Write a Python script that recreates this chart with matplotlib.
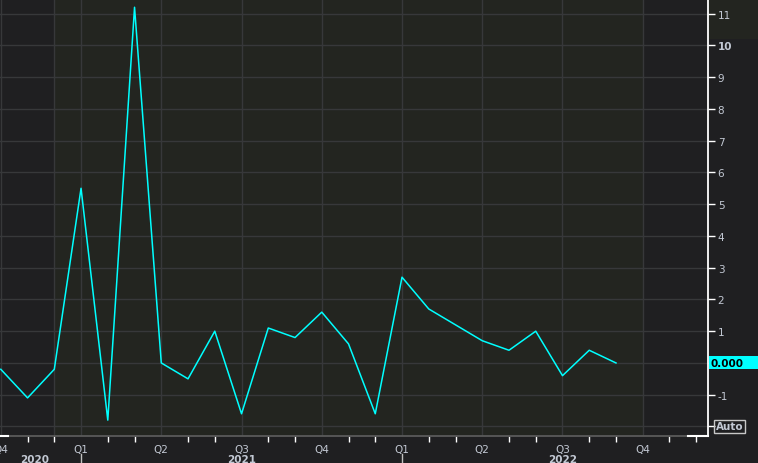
import matplotlib
matplotlib.use("Agg")
import matplotlib.pyplot as plt
from matplotlib.patches import Rectangle

# monthly values, Oct 2020 .. Sep 2022 (index 0 = Oct 2020)
months = ["2020-10", "2020-11", "2020-12",
          "2021-01", "2021-02", "2021-03", "2021-04", "2021-05", "2021-06",
          "2021-07", "2021-08", "2021-09", "2021-10", "2021-11", "2021-12",
          "2022-01", "2022-02", "2022-03", "2022-04", "2022-05", "2022-06",
          "2022-07", "2022-08", "2022-09"]
values = [-0.2, -1.1, -0.2,
          5.5, -1.8, 11.2, 0.0, -0.5, 1.0,
          -1.6, 1.1, 0.8, 1.6, 0.6, -1.6,
          2.7, 1.7, 1.2, 0.7, 0.4, 1.0,
          -0.4, 0.4, 0.0]
last_label = "0.000"

quarter_pos = [0, 3, 6, 9, 12, 15, 18, 21, 24]
quarter_lbl = ["Q4", "Q1", "Q2", "Q3", "Q4", "Q1", "Q2", "Q3", "Q4"]
year_pos = [1.25, 9, 21]
year_lbl = ["2020", "2021", "2022"]
year_breaks = [3, 15]
y_ticks = list(range(-2, 12))

BG = "#1f1f21"
SHADE = "#232520"
GRID = "#37383a"
TXT = "#c3c9d4"
CYAN = "#00ffff"

x = list(range(len(values)))

fig = plt.figure(figsize=(7.58, 4.64), dpi=100, facecolor=BG)

# greenish block behind the top y labels
fig.patches.append(Rectangle((708 / 758, 424 / 464), 50 / 758, 40 / 464, transform=fig.transFigure,
                             facecolor=SHADE, edgecolor="none", zorder=-1))

ax = fig.add_axes([0, 27 / 464, 708 / 758, 437 / 464])
ax.set_facecolor(BG)

# greenish band over the data range
ax.axvspan(2, 24, color=SHADE, zorder=0, lw=0)
ax.axvline(2, color=GRID, lw=1, zorder=0.5)

for q in quarter_pos:
    ax.axvline(q, color=GRID, lw=1, zorder=0.5)
for yv in y_ticks:
    ax.axhline(yv, color=GRID, lw=1, zorder=0.5)

ax.plot(x, values, color=CYAN, lw=1.1, zorder=3)

# x axis: quarter labels, monthly minor ticks
ax.set_xticks(quarter_pos)
ax.set_xticklabels(quarter_lbl)
ax.set_xticks([m for m in range(1, 27) if m % 3 != 0], minor=True)
ax.tick_params(axis="x", which="major", length=0, pad=6, labelsize=7.5, colors=TXT)
ax.tick_params(axis="x", which="minor", length=4, width=1, color="white", direction="out")

# y axis on the right
ax.yaxis.tick_right()
ax.set_yticks(y_ticks)
ylabels = [str(v) for v in y_ticks]
ylabels[y_ticks.index(-2)] = ""
ylabels[y_ticks.index(0)] = ""
ax.set_yticklabels(ylabels)
ax.tick_params(axis="y", length=5, width=1, color="white", pad=2, labelsize=7.5, labelcolor=TXT)
for lab in ax.get_yticklabels():
    if lab.get_text() == "10":
        lab.set_fontweight("bold")

ax.set_xlim(-0.03, 26.44)
ax.set_ylim(-2.30, 11.46)

for xp, yl in zip(year_pos, year_lbl):
    ax.text(xp, -0.053, yl, transform=ax.get_xaxis_transform(), ha="center", va="center",
            fontsize=7.5, fontweight="bold", color=TXT, clip_on=False)
for xb in year_breaks:
    ax.plot([xb, xb], [-0.041, -0.065], transform=ax.get_xaxis_transform(),
            color="#bfbfbf", lw=1, clip_on=False)

for s in ["top", "left"]:
    ax.spines[s].set_visible(False)
ax.spines["right"].set_color("white")
ax.spines["right"].set_linewidth(1.3)
ax.spines["bottom"].set_color("#5a5a5a")
ax.spines["bottom"].set_linewidth(1.3)
ax.plot([688 / 708, 1.0], [0, 0], transform=ax.transAxes, color="white", lw=1.5, clip_on=False, zorder=5)
ax.plot([0, 8 / 708], [0, 0], transform=ax.transAxes, color="white", lw=1.5, clip_on=False, zorder=5)

# last value tag
tr = ax.get_yaxis_transform()
ax.add_patch(Rectangle((1.0015, values[-1] - 0.205), 0.07, 0.41, transform=tr,
                       facecolor=CYAN, edgecolor="none", clip_on=False, zorder=6))
ax.text(1.003, values[-1], last_label, transform=tr, ha="left", va="center",
        fontsize=7.5, fontweight="bold", color="black", clip_on=False, zorder=7)

# Auto tag
ax.text(1.011, -2, "Auto", transform=tr, ha="left", va="center", fontsize=7.5,
        fontweight="bold", color=TXT, clip_on=False,
        bbox=dict(boxstyle="square,pad=0.15", facecolor="none", edgecolor="#c8c8c8", lw=1))

fig.savefig("out.png", dpi=100, facecolor=BG)
